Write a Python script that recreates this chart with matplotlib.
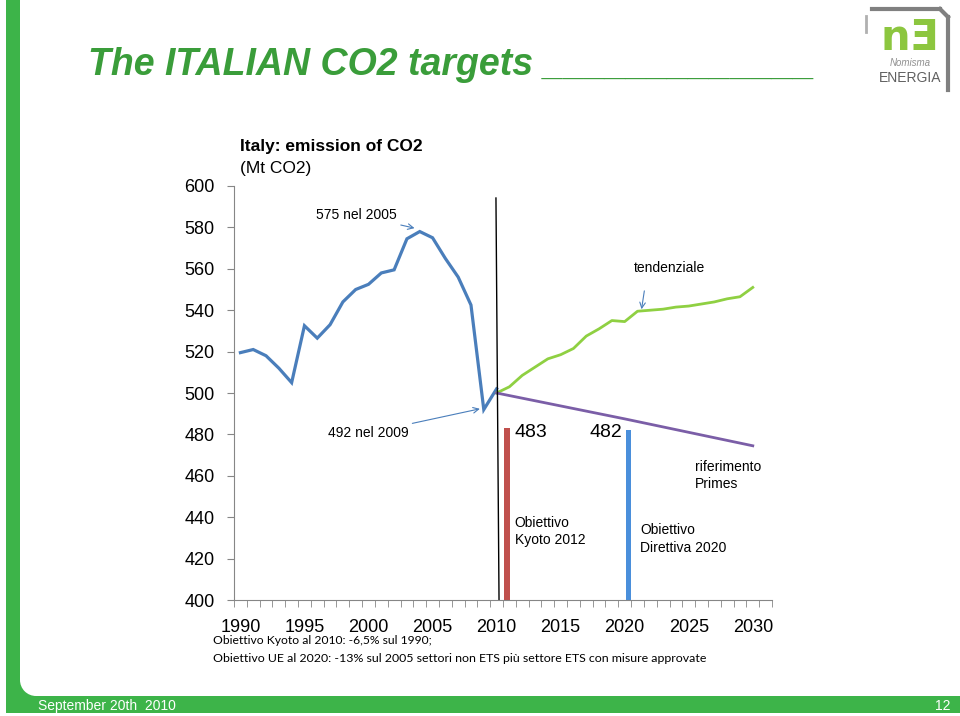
import matplotlib
matplotlib.use('Agg')
import matplotlib.pyplot as plt
from matplotlib.patches import Rectangle, Circle
from matplotlib.lines import Line2D

# storico emissioni (Mt CO2)
years_hist = list(range(1990, 2011))
co2_hist = [519.5, 521, 518, 512, 505, 532.5, 526.5, 533, 544, 550, 552.5,
            558, 559.5, 574.5, 578, 575, 565, 556, 542.5, 492, 502]

# scenario tendenziale
years_trend = list(range(2010, 2031))
co2_trend = [500, 503, 508.5, 512.5, 516.5, 518.5, 521.5, 527.5, 531, 535, 534.5,
             539.5, 540, 540.5, 541.5, 542, 543, 544, 545.5, 546.5, 551]

# riferimento Primes
years_primes = [2010, 2020, 2030]
co2_primes = [500, 487.5, 474.5]

# obiettivi
target_years = [2011, 2020]
target_values = [483, 482]
target_labels = ['483', '482']

xtick_years = list(range(1990, 2031, 5))
ytick_values = list(range(400, 601, 20))

W, H = 960, 716
green = '#3db449'
title_green = '#3a9d3a'
blue = '#4a7ebb'


def px(x, y):
    return x / W, 1 - y / H


fig = plt.figure(figsize=(9.6, 7.16), dpi=100)
plt.rcParams['font.family'] = ['Liberation Sans', 'DejaVu Sans']

# cornice verde
fig.add_artist(Rectangle(px(6, 696), 14 / W, 696 / H, transform=fig.transFigure,
                         color=green, lw=0))
fig.add_artist(Rectangle(px(6, 713), 954 / W, 17 / H, transform=fig.transFigure,
                         color=green, lw=0))
fig.add_artist(Rectangle(px(20, 696), 16 / W, 16 / H, transform=fig.transFigure,
                         color=green, lw=0))
fig.patches.append(Circle((36, H - 680), 16, transform=None, color='white', lw=0))

fig.text(*px(38, 706), 'September 20th  2010', color='white', fontsize=10,
         va='center', ha='left')
fig.text(*px(951, 706), '12', color='white', fontsize=10, va='center', ha='right')

# titolo
fig.text(*px(88, 65), 'The ITALIAN CO2 targets _____________', color=title_green,
         fontsize=27, fontweight='bold', fontstyle='italic', va='center', ha='left')

# logo
fig.add_artist(Line2D([872 / W, 940 / W], [1 - 9 / H, 1 - 9 / H],
                      transform=fig.transFigure, color='#808080', lw=3))
fig.add_artist(Line2D([948 / W, 948 / W], [1 - 17 / H, 1 - 90 / H],
                      transform=fig.transFigure, color='#808080', lw=3))
fig.add_artist(Line2D([940 / W, 948 / W], [1 - 9 / H, 1 - 17 / H],
                      transform=fig.transFigure, color='#808080', lw=3))
fig.add_artist(Line2D([866 / W, 866 / W], [1 - 16 / H, 1 - 32 / H],
                      transform=fig.transFigure, color='#b0b0b0', lw=2))
fig.text(*px(910, 38), 'nƎ', color='#8cc63f', fontsize=30, fontweight='bold',
         ha='center', va='center', family='DejaVu Sans')
fig.text(*px(910, 63), 'Nomisma', color='#909090', fontsize=7, fontstyle='italic',
         ha='center', va='center')
fig.text(*px(910, 78), 'ENERGIA', color='#606060', fontsize=10,
         ha='center', va='center')

# grafico
ax = fig.add_axes([234 / W, 1 - 600 / H, 538 / W, 414 / H])
ax.plot(years_hist, co2_hist, color=blue, lw=2.3, solid_joinstyle='miter')
ax.plot(years_trend, co2_trend, color='#8fd042', lw=2)
ax.plot(years_primes, co2_primes, color='#7b5ea7', lw=2)
bar_shift = [-0.2, 0.3]
ax.bar([y + s for y, s in zip(target_years, bar_shift)], target_values, width=0.45,
       color=['#c0504d', '#4a8fdb'])

ax.set_xlim(1989.5, 2031.5)
ax.set_ylim(400, 600)
for s in ['top', 'right']:
    ax.spines[s].set_visible(False)
for s in ['left', 'bottom']:
    ax.spines[s].set_color('#868686')
ax.set_yticks(ytick_values)
ax.set_yticklabels([str(v) for v in ytick_values], fontsize=13)
ax.set_xticks(xtick_years)
ax.set_xticklabels([str(v) for v in xtick_years], fontsize=13)
ax.set_xticks([y + 0.5 for y in range(1989, 2032)], minor=True)
ax.tick_params(axis='x', which='major', length=0, pad=13.5)
ax.tick_params(axis='x', which='minor', length=5, color='#868686', direction='out')
ax.tick_params(axis='y', length=5, color='#868686', pad=9)

# linea verticale 2010
ax.plot([2009.95, 2010.19], [594.2, 400], color='black', lw=1, clip_on=False)

arrow = dict(arrowstyle='->', color=blue, lw=0.8, shrinkA=1, shrinkB=1)
ax.annotate('575 nel 2005', xy=(2003.7, 579.5), xytext=(2002.2, 586),
            ha='right', va='center', fontsize=10, arrowprops=arrow)
ax.annotate('492 nel 2009', xy=(2008.8, 492.5), xytext=(2003.1, 480.7),
            ha='right', va='center', fontsize=10, arrowprops=arrow)
ax.text(2023.5, 560.4, 'tendenziale', ha='center', va='center', fontsize=10)
ax.annotate('', xy=(2021.3, 539.8), xytext=(2021.55, 550), arrowprops=arrow)

ax.text(2011.4, 480.7, target_labels[0], ha='left', va='center', fontsize=14)
ax.text(2019.8, 480.7, target_labels[1], ha='right', va='center', fontsize=14)
ax.text(2025.5, 460, 'riferimento\nPrimes', ha='left', va='center', fontsize=10,
        linespacing=1.3)
ax.text(2011.4, 433, 'Obiettivo\nKyoto 2012', ha='left', va='center', fontsize=10,
        linespacing=1.3)
ax.text(2021.2, 429.5, 'Obiettivo\nDirettiva 2020', ha='left', va='center', fontsize=10,
        linespacing=1.3)

fig.text(*px(240, 146), 'Italy: emission of CO2', fontsize=12.5, fontweight='bold',
         ha='left', va='center')
fig.text(*px(240, 168), '(Mt CO2)', fontsize=12.5, ha='left', va='center')

fig.text(*px(213, 640), 'Obiettivo Kyoto al 2010: -6,5% sul 1990;', fontsize=8.7,
         family='Lato', ha='left', va='center')
fig.text(*px(213, 658), 'Obiettivo UE al 2020: -13% sul 2005 settori non ETS più '
         'settore ETS con misure approvate', fontsize=8.9, family='Lato',
         ha='left', va='center')

fig.savefig('out.png', dpi=100)
